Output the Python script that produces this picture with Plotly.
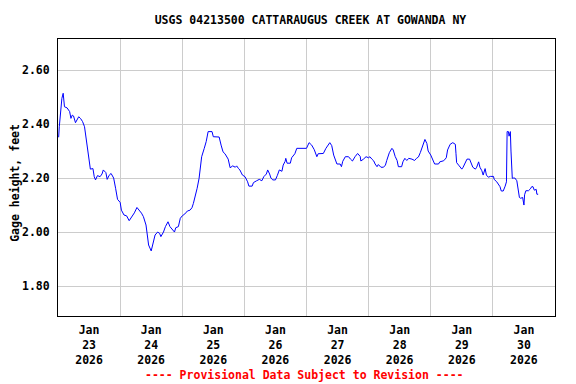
import pandas as pd
import plotly.graph_objects as go

# Hours after 2026-01-23 00:00 and gage height (feet)
hours = [0.25, 0.5, 1.5, 2.0, 2.5, 3.5, 4.5, 5.0, 5.5, 6.0, 6.75, 7.25, 8.0, 8.75, 9.5,
         10.25, 10.75, 11.25, 12.0, 12.5, 13.5, 14.0, 14.5, 15.25, 16.25, 17.0, 17.5,
         18.5, 19.0, 19.75, 20.5, 21.5, 22.25, 23.0, 24.0, 24.5, 25.5, 26.5, 27.5, 28.5,
         29.5, 30.5, 31.5, 32.25, 33.0, 34.0, 34.5, 35.0, 36.0, 36.75, 37.5, 38.5, 39.25,
         39.75, 40.75, 41.5, 42.5, 43.25, 44.25, 45.0, 45.5, 46.5, 47.25, 48.0, 49.0,
         50.0, 51.0, 51.75, 52.3, 53.0, 53.75, 54.5, 55.0, 55.5, 56.5, 57.25, 58.0, 59.5,
         60.0, 62.25, 63.0, 63.75, 64.5, 65.25, 65.75, 66.5, 67.5, 68.5, 69.0, 69.75,
         70.25, 71.25, 72.25, 73.25, 73.75, 75.0, 75.5, 76.75, 77.75, 78.75, 79.5, 80.5,
         81.0, 81.75, 82.25, 83.0, 84.0, 84.75, 85.5, 86.5, 87.0, 87.75, 88.0, 88.5,
         89.75, 90.25, 91.0, 91.5, 92.25, 96.0, 97.0, 98.0, 99.0, 100.0, 100.5, 102.5,
         103.5, 105.0, 105.75, 106.5, 107.75, 109.0, 109.5, 110.0, 111.0, 112.25, 113.0,
         113.75, 114.75, 115.75, 116.75, 117.0, 118.0, 119.0, 120.0, 120.5, 121.25,
         122.0, 122.5, 123.25, 123.75, 124.75, 125.75, 126.5, 127.0, 128.0, 129.0, 129.5,
         130.25, 131.0, 131.5, 132.75, 133.25, 134.0, 134.75, 135.5, 136.75, 137.75,
         138.5, 139.25, 140.0, 140.5, 141.25, 141.75, 142.5, 143.0, 144.0, 144.75, 145.5,
         147.0, 147.5, 149.0, 150.0, 150.5, 151.5, 152.5, 153.5, 153.75, 154.0, 155.0,
         156.0, 156.5, 157.25, 158.0, 159.0, 159.5, 160.25, 161.25, 161.75, 162.5, 163.0,
         163.75, 164.25, 165.0, 165.5, 166.25, 167.0, 168.25, 168.5, 169.5, 170.25,
         170.75, 171.25, 172.0, 172.75, 173.25, 173.5, 174.0, 174.25, 174.75, 175.0,
         175.5, 176.0, 176.5, 177.25, 177.75, 178.25, 178.75, 179.5, 180.0, 180.25,
         180.75, 181.75, 182.5, 183.0, 183.5, 184.0, 184.75, 185.0, 185.5]
gage_ft = [2.351, 2.39, 2.495, 2.514, 2.464, 2.46, 2.446, 2.421, 2.433, 2.43, 2.405, 2.415,
           2.427, 2.42, 2.409, 2.39, 2.353, 2.31, 2.273, 2.233, 2.235, 2.205, 2.193, 2.209,
           2.205, 2.215, 2.23, 2.22, 2.195, 2.21, 2.217, 2.2, 2.162, 2.121, 2.11, 2.081,
           2.063, 2.06, 2.042, 2.055, 2.071, 2.091, 2.08, 2.07, 2.057, 2.026, 1.989, 1.952,
           1.93, 1.964, 1.989, 2.0, 1.995, 1.983, 2.0, 2.02, 2.038, 2.02, 2.007, 2.0, 2.016,
           2.02, 2.051, 2.06, 2.067, 2.078, 2.081, 2.09, 2.106, 2.131, 2.162, 2.199, 2.254,
           2.279, 2.31, 2.335, 2.372, 2.372, 2.353, 2.352, 2.322, 2.297, 2.29, 2.279, 2.27,
           2.238, 2.245, 2.24, 2.245, 2.235, 2.23, 2.211, 2.205, 2.186, 2.17, 2.17, 2.183,
           2.19, 2.195, 2.19, 2.205, 2.215, 2.23, 2.215, 2.2, 2.193, 2.193, 2.21, 2.23,
           2.225, 2.248, 2.262, 2.273, 2.255, 2.255, 2.275, 2.285, 2.29, 2.31, 2.31, 2.331,
           2.322, 2.305, 2.279, 2.29, 2.291, 2.31, 2.331, 2.32, 2.285, 2.252, 2.252, 2.242,
           2.262, 2.279, 2.279, 2.27, 2.263, 2.279, 2.291, 2.28, 2.263, 2.27, 2.279, 2.275,
           2.279, 2.27, 2.263, 2.252, 2.242, 2.25, 2.24, 2.24, 2.248, 2.265, 2.294, 2.31,
           2.304, 2.28, 2.265, 2.242, 2.242, 2.26, 2.273, 2.265, 2.273, 2.27, 2.265, 2.273,
           2.278, 2.295, 2.31, 2.328, 2.343, 2.328, 2.3, 2.285, 2.27, 2.252, 2.252, 2.26,
           2.264, 2.275, 2.304, 2.325, 2.331, 2.325, 2.29, 2.257, 2.245, 2.233, 2.24, 2.255,
           2.27, 2.27, 2.255, 2.24, 2.233, 2.24, 2.26, 2.24, 2.227, 2.211, 2.235, 2.211,
           2.203, 2.206, 2.206, 2.195, 2.186, 2.177, 2.168, 2.152, 2.152, 2.17, 2.186,
           2.372, 2.372, 2.355, 2.372, 2.30, 2.199, 2.2, 2.2, 2.19, 2.155, 2.128, 2.125,
           2.128, 2.10, 2.138, 2.153, 2.153, 2.16, 2.168, 2.168, 2.155, 2.158, 2.14, 2.14]

day_ticks = ["2026-01-23 12:00", "2026-01-24 12:00", "2026-01-25 12:00", "2026-01-26 12:00",
             "2026-01-27 12:00", "2026-01-28 12:00", "2026-01-29 12:00", "2026-01-30 12:00"]
day_labels = ["Jan<br>23<br>2026", "Jan<br>24<br>2026", "Jan<br>25<br>2026", "Jan<br>26<br>2026",
              "Jan<br>27<br>2026", "Jan<br>28<br>2026", "Jan<br>29<br>2026", "Jan<br>30<br>2026"]
y_ticks = [1.8, 2.0, 2.2, 2.4, 2.6]

start = pd.Timestamp("2026-01-23 00:00")
times = [start + pd.Timedelta(hours=h) for h in hours]

FONT = "DejaVu Sans Mono"
FS = 11.5

fig = go.Figure(go.Scatter(x=times, y=gage_ft, mode="lines",
                           line=dict(color="#0000ff", width=1), hoverinfo="x+y"))

fig.update_layout(
    width=568, height=376,
    margin=dict(l=50, r=21, t=31, b=68),
    paper_bgcolor="white", plot_bgcolor="white",
    showlegend=False,
    font=dict(family=FONT, size=FS, color="black", weight="bold"),
    title=dict(text="USGS 04213500 CATTARAUGUS CREEK AT GOWANDA NY",
               x=0.5325, xanchor="center", y=0.968, yanchor="middle",
               font=dict(family=FONT, size=FS, color="black", weight="bold")),
)
fig.update_xaxes(
    type="date", range=["2026-01-23", "2026-01-31"],
    tickmode="array", tickvals=day_ticks, ticktext=day_labels,
    showgrid=False, ticks="outside", ticklen=3, tickcolor="rgba(0,0,0,0)",
    showline=True, linecolor="black", linewidth=1, mirror=True,
    minor=dict(tickmode="linear", tick0="2026-01-23", dtick=86400000,
               showgrid=True, gridcolor="#cccccc", gridwidth=1, ticks=""),
    tickfont=dict(family=FONT, size=FS, color="black", weight="bold"),
    zeroline=False,
)
fig.update_yaxes(
    range=[1.689, 2.715],
    tickmode="array", tickvals=y_ticks, ticktext=[f"{v:.2f}" for v in y_ticks],
    showgrid=True, gridcolor="#cccccc", gridwidth=1,
    ticks="outside", ticklen=5, tickcolor="rgba(0,0,0,0)",
    showline=True, linecolor="black", linewidth=1, mirror=True,
    tickfont=dict(family=FONT, size=FS, color="black", weight="bold"),
    zeroline=False,
)
fig.add_annotation(text="Gage height, feet", xref="paper", yref="paper",
                   x=-0.087, y=0.48, textangle=-90, showarrow=False,
                   xanchor="center", yanchor="middle",
                   font=dict(family=FONT, size=FS, color="black", weight="bold"))
fig.add_annotation(text="---- Provisional Data Subject to Revision ----",
                   xref="paper", yref="paper", x=0.4965, y=-0.213,
                   showarrow=False, xanchor="center", yanchor="middle",
                   font=dict(family=FONT, size=FS, color="red", weight="bold"))

fig.write_html("out.html")
